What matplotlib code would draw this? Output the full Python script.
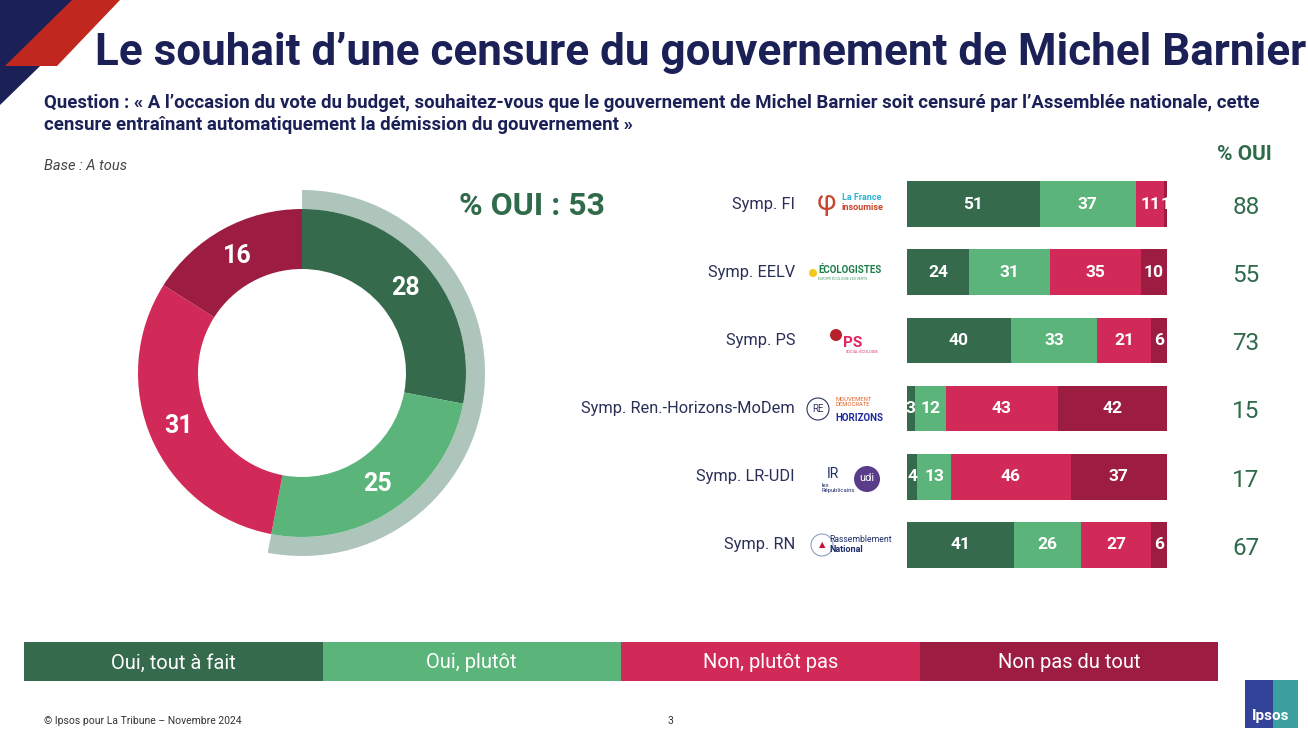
import numpy as np
import matplotlib
matplotlib.use("Agg")
import matplotlib.pyplot as plt
from matplotlib.patches import Wedge, Polygon, Rectangle, Circle

plt.rcParams['font.family'] = ['Roboto', 'DejaVu Sans']

# données
categories = ["Symp. FI", "Symp. EELV", "Symp. PS",
              "Symp. Ren.-Horizons-MoDem", "Symp. LR-UDI", "Symp. RN"]
tout_a_fait = [51, 24, 40, 3, 4, 41]
plutot_oui = [37, 31, 33, 12, 13, 26]
plutot_pas = [11, 35, 21, 43, 46, 27]
pas_du_tout = [1, 10, 6, 42, 37, 6]
pct_oui = [88, 55, 73, 15, 17, 67]

ensemble = [28, 25, 31, 16]
ensemble_oui = 53
legend_labels = ["Oui, tout à fait", "Oui, plutôt", "Non, plutôt pas", "Non pas du tout"]

colors = ["#356a4d", "#5bb47a", "#d22a58", "#9d1d42"]
navy = "#1b2157"
green_txt = "#2f6a4b"
grey_arc = "#adc5ba"

W, H = 1308, 748
fig = plt.figure(figsize=(W / 100, H / 100), dpi=100)

# axe de fond en pixels
bg = fig.add_axes([0, 0, 1, 1])
bg.set_xlim(0, W)
bg.set_ylim(H, 0)
bg.axis('off')

# coin décoratif
bg.add_patch(Polygon([(0, 0), (108, 0), (0, 105)], closed=True, color=navy, lw=0))
bg.add_patch(Polygon([(72, 0), (120, 0), (57, 66), (5, 66)], closed=True, color="#c0281f", lw=0))

# titres
bg.text(95, 53, "Le souhait d’une censure du gouvernement de Michel Barnier",
        fontsize=31.7, fontweight='bold', color=navy, va='center', ha='left')
bg.text(44, 103, "Question : « A l’occasion du vote du budget, souhaitez-vous que le gouvernement "
        "de Michel Barnier soit censuré par l’Assemblée nationale, cette",
        fontsize=13.4, fontweight='bold', color=navy, va='center')
bg.text(44, 125, "censure entraînant automatiquement la démission du gouvernement »",
        fontsize=13.4, fontweight='bold', color=navy, va='center')
bg.text(44, 166, "Base : A tous", fontsize=10.5, style='italic', color="#444444", va='center')

bg.text(532, 206, f"% OUI : {ensemble_oui}", fontsize=23, fontweight='bold',
        color=green_txt, ha='center', va='center')
bg.text(1244, 154, "% OUI", fontsize=15, fontweight='bold', color=green_txt,
        ha='center', va='center')

# légende
seg = (1218 - 24) / 4
for i, lab in enumerate(legend_labels):
    bg.add_patch(Rectangle((24 + i * seg, 642), seg, 39, color=colors[i], lw=0))
    bg.text(24 + i * seg + seg / 2, 663, lab, fontsize=14.5, color='white',
            ha='center', va='center')

# pied de page
bg.text(44, 721, "© Ipsos pour La Tribune – Novembre 2024", fontsize=7.5,
        color="#333333", va='center')
bg.text(670, 721, "3", fontsize=7.5, color="#333333", va='center', ha='center')
bg.add_patch(Rectangle((1245, 680), 28, 48, color="#34439a", lw=0))
bg.add_patch(Rectangle((1273, 680), 25, 48, color="#3c9fa0", lw=0))
bg.text(1271, 716, "Ipsos", fontsize=11, fontweight='bold', color='white',
        ha='center', va='center')

# logos (approximations textuelles)
bg.text(827, 202, "φ", fontsize=20, color="#c9462c", ha='center', va='center')
bg.text(842, 197, "La France", fontsize=6.5, fontweight='bold', color="#2fb3d3", va='center')
bg.text(842, 207, "insoumise", fontsize=6.5, fontweight='bold', color="#c9462c", va='center')
bg.add_patch(Circle((813, 273), 4, color="#f2c81b", lw=0))
bg.text(818, 270, "ÉCOLOGISTES", fontsize=7, fontweight='bold', color="#1f7d4a", va='center')
bg.text(818, 279, "EUROPE ÉCOLOGIE LES VERTS", fontsize=2.6, color="#4a9a6a", va='center')
bg.add_patch(Circle((836, 335), 6, color="#b8212b", lw=0))
bg.text(843, 343, "PS", fontsize=11, fontweight='bold', color="#e0245e", va='center')
bg.text(846, 352, "SOCIAL-ÉCOLOGIE", fontsize=2.8, color="#e0245e", va='center')
bg.add_patch(Circle((818, 409), 11, fill=False, ec="#2b3560", lw=0.8))
bg.text(818, 409, "RE", fontsize=7, color="#2b3560", ha='center', va='center')
bg.text(835, 402, "MOUVEMENT\nDÉMOCRATE", fontsize=4.2, color="#e2622a", va='center',
        linespacing=0.9)
bg.text(835, 418, "HORIZONS", fontsize=7, fontweight='bold', color="#1f2ca0", va='center')
bg.text(833, 474, "IR", fontsize=10, color="#1f2d6b", ha='center', va='center')
bg.text(822, 488, "les\nRépublicains", fontsize=4.2, color="#1f2d6b", va='center',
        linespacing=0.9)
bg.add_patch(Circle((867, 479), 13, color="#5a3c8a", lw=0))
bg.text(867, 478, "udi", fontsize=8, color='white', ha='center', va='center')
bg.add_patch(Circle((822, 545), 11, fill=False, ec="#8ea0c0", lw=0.8))
bg.text(822, 545, "▲", fontsize=6, color="#c8102e", ha='center', va='center')
bg.text(829, 540, "Rassemblement", fontsize=6.2, color="#1f2d6b", va='center')
bg.text(829, 550, "National", fontsize=6.5, fontweight='bold', color="#1f2d6b", va='center')

# anneau
cx, cy, r_out, r_in, r_arc = 302, 373, 164, 104, 183
half = 210
dax = fig.add_axes([(cx - half) / W, 1 - (cy + half) / H, 2 * half / W, 2 * half / H])
wedges, texts = dax.pie(ensemble, colors=colors, startangle=90, counterclock=False,
                        radius=1, labels=[str(v) for v in ensemble],
                        labeldistance=(r_out + r_in) / 2 / r_out,
                        wedgeprops=dict(width=(r_out - r_in) / r_out, linewidth=0),
                        textprops=dict(color='white', fontsize=18, fontweight='bold'))
for t in texts:
    t.set_ha('center')
    t.set_va('center')
dax.add_patch(Wedge((0, 0), r_arc / r_out, 90 - 360 * ensemble_oui / 100, 90,
                    width=(r_arc - r_out) / r_out, color=grey_arc, lw=0, zorder=0))
lim = half / r_out
dax.set_xlim(-lim, lim)
dax.set_ylim(-lim, lim)
dax.set_aspect('equal')
dax.axis('off')

# barres empilées
bx0, bx1, by0, by1 = 907, 1167, 170, 579
bax = fig.add_axes([bx0 / W, 1 - by1 / H, (bx1 - bx0) / W, (by1 - by0) / H])
y = np.arange(len(categories))
series = [tout_a_fait, plutot_oui, plutot_pas, pas_du_tout]
left = np.zeros(len(categories))
for s, col in zip(series, colors):
    bars = bax.barh(y, s, left=left, height=0.67, color=col, linewidth=0)
    for b, v in zip(bars, s):
        bax.text(b.get_x() + b.get_width() / 2, b.get_y() + b.get_height() / 2, str(v),
                 color='white', fontsize=12.5, fontweight='bold', ha='center', va='center')
    left += np.array(s)
bax.set_xlim(0, 100)
bax.set_ylim(len(categories) - 0.5, -0.5)
bax.axis('off')

# libellés catégories (x = 795 px) et % OUI (x = 1246 px)
xcat = -(bx0 - 795) / (bx1 - bx0)
xpct = (1246 - bx0) / (bx1 - bx0)
for i, (cat, p) in enumerate(zip(categories, pct_oui)):
    bax.text(xcat, i, cat, transform=bax.get_yaxis_transform(), fontsize=11.8,
             color="#2a2f58", ha='right', va='center')
    bax.text(xpct, i + 0.05, str(p), transform=bax.get_yaxis_transform(), fontsize=17.5,
             fontweight='normal', color=green_txt, ha='center', va='center')

fig.savefig("out.png", dpi=100)
